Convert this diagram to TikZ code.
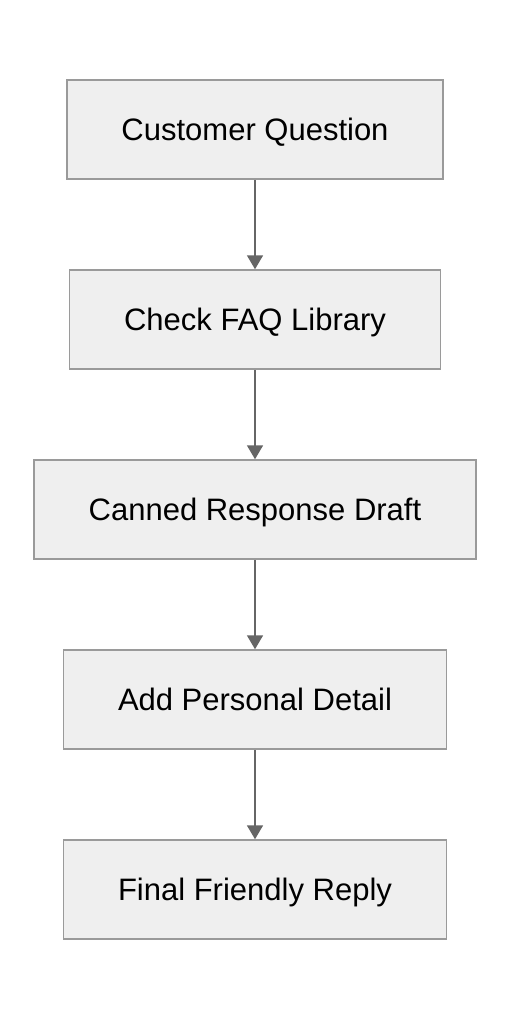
\documentclass[tikz,border=0pt]{standalone}
\usepackage{fontspec}
\setmainfont{Liberation Sans}
\usetikzlibrary{arrows.meta}
\definecolor{boxfill}{HTML}{EFEFEF}
\definecolor{boxline}{HTML}{9A9A9A}
\definecolor{arrline}{HTML}{666666}
\tikzset{
  stepbox/.style={draw=boxline,fill=boxfill,line width=1.5pt,minimum height=99pt,
    inner xsep=54.5pt,text height=22pt,text depth=0pt,font=\fontsize{31}{36}\selectfont},
  flow/.style={draw=arrline,line width=1.8pt,-{Triangle[length=14pt,width=16pt]}}
}
\begin{document}
\begin{tikzpicture}[x=1pt,y=-1pt]
\useasboundingbox (0,0) rectangle (510,1020);

\node[stepbox] (question) at (255,129.5) {Customer Question};
\node[stepbox] (faq) at (255,319.5) {Check FAQ Library};
\node[stepbox] (canned) at (255,509.5) {Canned Response Draft};
\node[stepbox] (personal) at (255,699.5) {Add Personal Detail};
\node[stepbox] (reply) at (255,889.5) {Final Friendly Reply};

\draw[flow] (question) -- (faq);
\draw[flow] (faq) -- (canned);
\draw[flow] (canned) -- (personal);
\draw[flow] (personal) -- (reply);
\end{tikzpicture}
\end{document}
